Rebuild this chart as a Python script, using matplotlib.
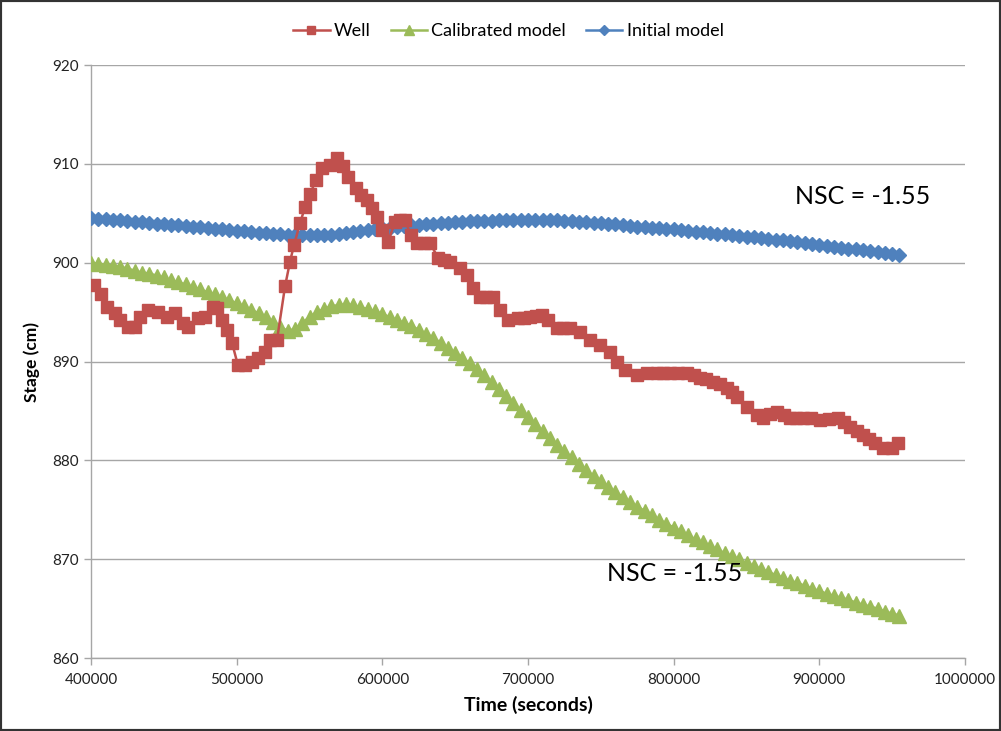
import matplotlib
matplotlib.use("Agg")
import matplotlib.pyplot as plt
import numpy as np
from matplotlib.patches import Rectangle

plt.rcParams['font.family'] = ['Lato', 'DejaVu Sans']

# ---------------- data ----------------
well_time = [402000, 407000, 411000, 416500, 420000, 425400, 430200, 433600, 439100, 446000,
             452200, 457700, 463200, 466600, 473500, 478300, 483800, 486500, 489900, 493400,
             496800, 500900, 505700, 510500, 514600, 519500, 522900, 527700, 533200, 536600,
             539400, 543500, 546900, 550300, 554500, 558600, 564100, 568900, 573000, 576400,
             581900, 585500, 589500, 593000, 596300, 600000, 603900, 608700, 612000, 615600,
             619500, 623800, 628500, 632700, 638200, 642000, 646400, 653300, 658100, 662200,
             667000, 671000, 676000, 680800, 686300, 693100, 697000, 701400, 705500, 709600,
             713700, 719900, 724000, 728800, 735700, 742600, 749400, 756300, 761100, 766600,
             774800, 781700, 788600, 793000, 797500, 803000, 809200, 814000, 818100, 822000,
             827000, 832000, 836600, 840000, 843500, 850300, 857200, 861300, 866000, 870900,
             876000, 879900, 884000, 888800, 894500, 900500, 906500, 912800, 917000, 921100,
             926000, 929900, 934000, 938200, 943700, 949900, 954000]
well_stage = [897.7, 896.8, 895.5, 894.9, 894.2, 893.5, 893.5, 894.5, 895.2, 895.0,
              894.5, 894.9, 893.9, 893.5, 894.4, 894.5, 895.5, 895.4, 894.2, 893.2,
              891.9, 889.6, 889.6, 889.9, 890.4, 891.0, 892.2, 892.2, 897.6, 900.1,
              901.8, 904.0, 905.6, 906.9, 908.4, 909.6, 909.9, 910.6, 909.8, 908.7,
              907.6, 906.8, 906.3, 905.5, 904.6, 903.3, 902.1, 904.1, 904.3, 904.3,
              902.8, 902.0, 902.0, 902.0, 900.5, 900.3, 900.1, 899.5, 898.8, 897.4,
              896.5, 896.5, 896.5, 895.2, 894.2, 894.4, 894.4, 894.5, 894.6, 894.7,
              894.2, 893.4, 893.4, 893.4, 893.0, 892.2, 891.7, 891.0, 890.0, 889.1,
              888.6, 888.8, 888.8, 888.8, 888.8, 888.8, 888.8, 888.6, 888.3, 888.2,
              887.9, 887.7, 887.3, 886.9, 886.4, 885.4, 884.6, 884.3, 884.7, 884.9,
              884.6, 884.3, 884.3, 884.3, 884.3, 884.1, 884.2, 884.3, 883.9, 883.4,
              883.0, 882.6, 882.2, 881.8, 881.2, 881.2, 881.8]

model_time = list(range(400000, 955001, 5000))
calibrated_stage = [900.0, 899.9, 899.8, 899.7, 899.6, 899.4, 899.2, 899.0, 898.9, 898.7,
                    898.5, 898.2, 898.0, 897.8, 897.5, 897.3, 897.0, 896.8, 896.5, 896.2,
                    895.9, 895.6, 895.2, 894.9, 894.5, 894.0, 893.5, 893.1, 893.3, 893.9,
                    894.5, 895.0, 895.3, 895.6, 895.7, 895.8, 895.7, 895.5, 895.3, 895.1,
                    894.8, 894.5, 894.2, 893.9, 893.6, 893.2, 892.8, 892.4, 891.9, 891.4,
                    890.9, 890.4, 889.8, 889.2, 888.6, 887.9, 887.2, 886.5, 885.8, 885.1,
                    884.4, 883.7, 883.0, 882.3, 881.6, 880.9, 880.3, 879.6, 879.0, 878.4,
                    877.9, 877.3, 876.8, 876.3, 875.8, 875.3, 874.9, 874.5, 874.0, 873.6,
                    873.2, 872.8, 872.4, 872.0, 871.7, 871.3, 871.0, 870.6, 870.3, 870.0,
                    869.6, 869.3, 869.0, 868.7, 868.4, 868.1, 867.8, 867.6, 867.3, 867.0,
                    866.8, 866.5, 866.3, 866.1, 865.9, 865.6, 865.4, 865.2, 865.0, 864.7,
                    864.5, 864.3]
initial_stage = [904.5, 904.4, 904.4, 904.3, 904.3, 904.2, 904.1, 904.1, 904.0, 903.9,
                 903.9, 903.8, 903.8, 903.7, 903.6, 903.6, 903.5, 903.4, 903.4, 903.3,
                 903.2, 903.2, 903.1, 903.0, 903.0, 902.9, 902.9, 902.8, 902.8, 902.8,
                 902.8, 902.8, 902.8, 902.8, 902.9, 903.0, 903.1, 903.2, 903.3, 903.4,
                 903.5, 903.55, 903.6, 903.7, 903.8, 903.85, 903.9, 903.95, 904.0, 904.05,
                 904.1, 904.15, 904.2, 904.2, 904.2, 904.25, 904.3, 904.3, 904.3, 904.3,
                 904.3, 904.3, 904.3, 904.3, 904.3, 904.25, 904.2, 904.15, 904.1, 904.05,
                 904.0, 903.95, 903.9, 903.8, 903.7, 903.65, 903.6, 903.55, 903.5, 903.45,
                 903.4, 903.3, 903.2, 903.15, 903.1, 903.0, 902.9, 902.85, 902.8, 902.7,
                 902.6, 902.55, 902.5, 902.4, 902.3, 902.25, 902.2, 902.1, 902.0, 901.9,
                 901.8, 901.7, 901.6, 901.5, 901.4, 901.35, 901.3, 901.2, 901.1, 901.0,
                 900.9, 900.8]

x_ticks = [400000, 500000, 600000, 700000, 800000, 900000, 1000000]
y_ticks = [860, 870, 880, 890, 900, 910, 920]
nsc_label = "NSC = -1.55"

# ---------------- figure ----------------
fig = plt.figure(figsize=(10.01, 7.31), dpi=100)
ax = fig.add_axes([91/1001, 1 - 658/731, (965-91)/1001, (658-65)/731])

red = '#C0504D'
green = '#9BBB59'
blue = '#4F81BD'

ax.plot(well_time, well_stage, color=red, lw=1.8, marker='s', markersize=8,
        markerfacecolor=red, markeredgecolor=red, label='Well', zorder=4)
ax.plot(model_time, calibrated_stage, color=green, lw=1.8, marker='^', markersize=10,
        markerfacecolor=green, markeredgecolor=green, label='Calibrated model', zorder=3)
ax.plot(model_time, initial_stage, color=blue, lw=1.8, marker='D', markersize=7.5,
        markerfacecolor=blue, markeredgecolor=blue, label='Initial model', zorder=3)

ax.set_xlim(400000, 1000000)
ax.set_ylim(860, 920)
ax.set_xticks(x_ticks)
ax.set_xticklabels([str(v) for v in x_ticks])
ax.set_yticks(y_ticks)
ax.set_yticklabels([str(v) for v in y_ticks])
ax.yaxis.grid(True, color='#A6A6A6', lw=1)
ax.set_axisbelow(True)
for s in ['top', 'right']:
    ax.spines[s].set_visible(False)
for s in ['left', 'bottom']:
    ax.spines[s].set_color('#A6A6A6')
    ax.spines[s].set_linewidth(1)
ax.tick_params(axis='both', colors='#A6A6A6', labelcolor='#222222', labelsize=11,
               length=5, width=1, direction='out')
ax.tick_params(axis='x', pad=6)

ax.set_xlabel('Time (seconds)', fontsize=14, fontweight='bold', labelpad=6)
ax.set_ylabel('Stage (cm)', fontsize=12.5, fontweight='bold', labelpad=9)

ax.text(0.805, 0.765, nsc_label, transform=ax.transAxes, fontsize=18, color='black')
ax.text(0.59, 0.13, nsc_label, transform=ax.transAxes, fontsize=18, color='black')

leg = fig.legend(loc='center', bbox_to_anchor=(0.508, 1 - 31/731), ncol=3, frameon=False,
                 fontsize=13, handlelength=2.0, handletextpad=0.25, columnspacing=1.1,
                 markerscale=0.7)

fig.patches.append(Rectangle((0, 0), 1, 1, transform=fig.transFigure, fill=False,
                             edgecolor='#333333', lw=3))

fig.savefig('out.png', dpi=100)
